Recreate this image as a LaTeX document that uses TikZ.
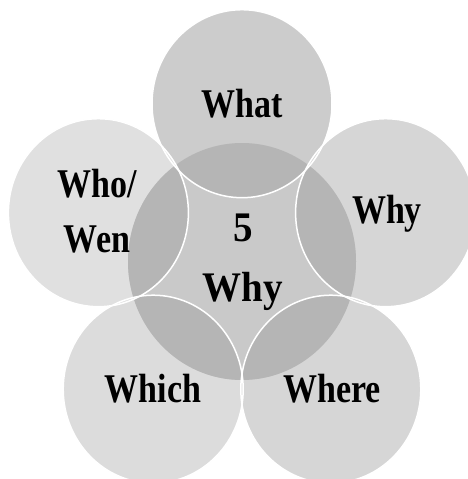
\documentclass[tikz,border=0pt]{standalone}
\usepackage{fontspec}
\setmainfont{Liberation Serif}
\usetikzlibrary{shapes.geometric}
\definecolor{cwhat}{HTML}{CCCCCC}
\definecolor{cwhy}{HTML}{D6D6D6}
\definecolor{cwhere}{HTML}{D6D6D6}
\definecolor{cwhich}{HTML}{DCDCDC}
\definecolor{cwho}{HTML}{E0E0E0}
\definecolor{ccore}{HTML}{C9C9C9}
\definecolor{cover}{HTML}{B5B5B5}
\newcommand{\tallo}[1]{\scalebox{1}[1.2]{#1}}
\newcommand{\tallc}[1]{\scalebox{1}[1.08]{#1}}
\begin{document}
\begin{tikzpicture}[x=1pt,y=-1pt,
  outer/.style={ellipse, minimum width=180pt, minimum height=188pt, inner sep=0pt, outer sep=0pt},
  ring/.style={draw=white, line width=1.5pt},
  lbl/.style={font=\fontsize{34}{55}\selectfont\bfseries, align=center, inner sep=0pt},
  clbl/.style={font=\fontsize{39}{60}\selectfont\bfseries, align=center, inner sep=0pt}]
\useasboundingbox (0,0) rectangle (467,479);
\fill[white] (0,0) rectangle (467,479);
% outer circles
\node[outer, fill=cwhat]  (what)  at (242,103.7) {};
\node[outer, fill=cwhy]   (why)   at (385.6,212.7) {};
\node[outer, fill=cwhere] (where) at (330.8,389.2) {};
\node[outer, fill=cwhich] (which) at (153.2,389.2) {};
\node[outer, fill=cwho]   (who)   at (98.4,212.7) {};
% core
\node[ellipse, minimum width=228pt, minimum height=237pt, inner sep=0pt, fill=ccore] (core) at (242,261.5) {};
% overlaps
\foreach \n in {what,why,where,which,who}{
  \begin{scope}
    \clip (\n.center) ellipse [x radius=90, y radius=94];
    \fill[cover] (core.center) ellipse [x radius=114, y radius=118.5];
  \end{scope}
}
% white rims
\foreach \n in {what,why,where,which,who}{
  \draw[ring] (\n.center) ellipse [x radius=90, y radius=94];
}
% labels
\node[lbl, anchor=base] (twhat) at (242,117) {\tallo{What}};
\node[lbl, anchor=base] (twhy) at (387,223.5) {\tallo{Why}};
\node[lbl, anchor=base] (twhere) at (332,402) {\tallo{Where}};
\node[lbl, anchor=base] (twhich) at (153,402) {\tallo{Which}};
\node[lbl] (twho) at (97,211.5) {\tallo{Who/}\\\tallo{Wen}};
\node[clbl] (tcore) at (243,262) {\tallc{5}\\\tallc{Why}};
\end{tikzpicture}
\end{document}
